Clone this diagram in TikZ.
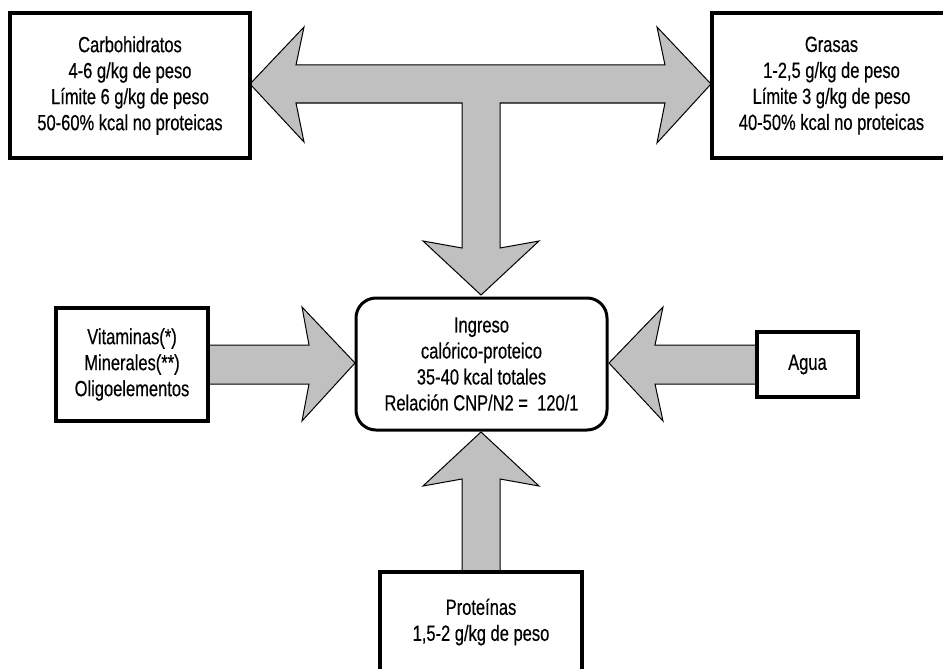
\documentclass[tikz,border=0pt]{standalone}
\usepackage{fontspec}
\setmainfont[FakeStretch=0.75,FakeBold=0.4]{Liberation Sans}
\begin{document}
\begin{tikzpicture}[x=1pt,y=-1pt,
  box/.style={draw=black,line width=3.5pt,fill=white,align=center,inner sep=0pt,
    font=\fontsize{22}{26}\selectfont},
  bigarrow/.style={draw=black,line width=1pt,fill=arrowgray,line join=miter}]
\definecolor{arrowgray}{RGB}{192,192,192}
\useasboundingbox (0,0) rectangle (943,669);
\clip (0,0) rectangle (943,669);
% block arrows
\draw[bigarrow] (250,84) -- (304,27) -- (296,65) -- (665,65) -- (657,27) -- (711,84)
  -- (657,143) -- (665,103) -- (500,103) -- (500,248) -- (539,241) -- (481,295)
  -- (423,241) -- (462,248) -- (462,103) -- (296,103) -- (304,142) -- cycle;
\draw[bigarrow] (208,345) -- (309,345) -- (302,307) -- (355,363) -- (302,421) -- (309,384) -- (208,384) -- cycle;
\draw[bigarrow] (757,345) -- (655,345) -- (663,307) -- (609,363) -- (663,421) -- (655,384) -- (757,384) -- cycle;
\draw[bigarrow] (462,572) -- (462,479) -- (423,486) -- (481,432) -- (539,486) -- (500,479) -- (500,572) -- cycle;
% boxes
\node[box,minimum width=240pt,minimum height=145pt] (carb) at (130,85.5)
  {Carbohidratos\\4-6 g/kg de peso\\Límite 6 g/kg de peso\\50-60\% kcal no proteicas};
\node[box,minimum width=239pt,minimum height=145pt] (gras) at (831.5,85.5)
  {Grasas\\1-2,5 g/kg de peso\\Límite 3 g/kg de peso\\40-50\% kcal no proteicas};
\node[box,line width=3pt,rounded corners=20pt,minimum width=251pt,minimum height=132pt] (ing) at (481.5,364)
  {Ingreso\\calórico-proteico\\35-40 kcal totales\\Relación CNP/N2 =\ \ 120/1};
\node[box,minimum width=152pt,minimum height=113pt] (vit) at (132,364.5)
  {Vitaminas(*)\\Minerales(**)\\Oligoelementos};
\node[box,minimum width=101pt,minimum height=65pt] (agua) at (807.5,364.5) {Agua};
\node[box,minimum width=202pt,minimum height=100pt] (prot) at (481,622)
  {Proteínas\\1,5-2 g/kg de peso};
\end{tikzpicture}
\end{document}
